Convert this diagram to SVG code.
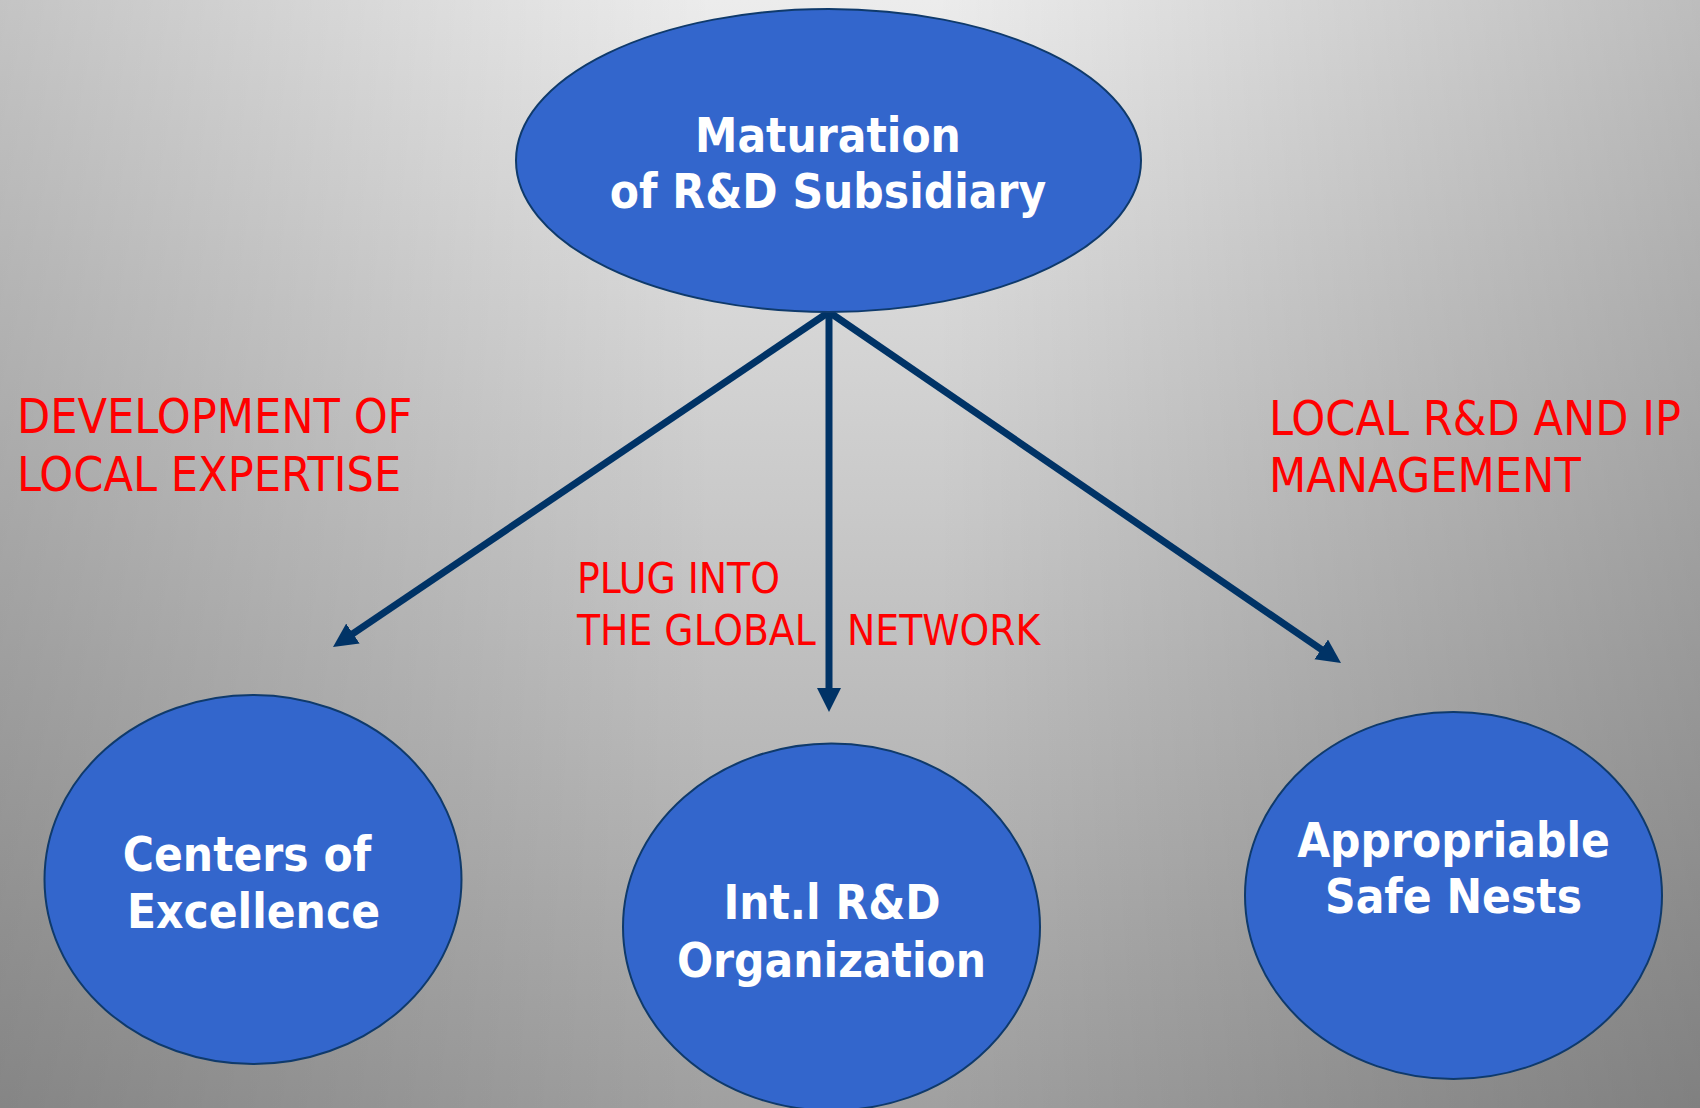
<svg xmlns="http://www.w3.org/2000/svg" width="1700" height="1108" viewBox="0 0 1700 1108">
  <defs>
    <linearGradient id="bgV" x1="0" y1="0" x2="0" y2="1">
      <stop offset="0" stop-color="#ececec"/>
      <stop offset="1" stop-color="#a0a0a0"/>
    </linearGradient>
    <linearGradient id="bgH" x1="0" y1="0" x2="1" y2="0">
      <stop offset="0" stop-color="#000" stop-opacity="0.17"/>
      <stop offset="0.42" stop-color="#000" stop-opacity="0"/>
      <stop offset="0.55" stop-color="#000" stop-opacity="0"/>
      <stop offset="1" stop-color="#000" stop-opacity="0.2"/>
    </linearGradient>
    <marker id="head" markerUnits="userSpaceOnUse" markerWidth="30" markerHeight="30" refX="4" refY="12" orient="auto">
      <path d="M0,0 L24,12 L0,24 z" fill="#003366"/>
    </marker>
    <style>
      .node { fill: #3366cc; stroke: #0f3a6b; stroke-width: 2; }
      .title { font-family: "DejaVu Sans Condensed", "DejaVu Sans", sans-serif; font-stretch: condensed; font-weight: bold; font-size: 47.3px; fill: #ffffff; text-anchor: middle; }
      .label { font-family: "DejaVu Sans Condensed", "DejaVu Sans", sans-serif; font-stretch: condensed; font-size: 48px; fill: #ff0000; }
      .small { font-size: 42px; }
      .link { stroke: #003366; stroke-width: 7; fill: none; marker-end: url(#head); }
    </style>
  </defs>

  <!-- backdrop -->
  <rect x="0" y="0" width="1700" height="1108" fill="url(#bgV)"/>
  <rect x="0" y="0" width="1700" height="1108" fill="url(#bgH)"/>

  <!-- connectors -->
  <g id="connectors">
    <line class="link" x1="829" y1="312" x2="349.6" y2="635.8"/>
    <line class="link" x1="829" y1="312" x2="829" y2="692"/>
    <line class="link" x1="829" y1="312" x2="1324.5" y2="651.7"/>
  </g>

  <!-- connector labels -->
  <g id="labels">
    <text class="label" x="17" y="433">DEVELOPMENT OF</text>
    <text class="label" x="17" y="491">LOCAL EXPERTISE</text>
    <text class="label small" x="577" y="593">PLUG INTO</text>
    <text class="label small" y="645"><tspan x="577">THE GLOBAL</tspan><tspan x="847">NETWORK</tspan></text>
    <text class="label" x="1269" y="435">LOCAL R&amp;D AND IP</text>
    <text class="label" x="1269" y="492">MANAGEMENT</text>
  </g>

  <!-- nodes -->
  <g id="maturation">
    <ellipse class="node" cx="828.5" cy="160.5" rx="312.5" ry="151.5"/>
    <text class="title" x="828" y="152">Maturation</text>
    <text class="title" x="828" y="208">of R&amp;D Subsidiary</text>
  </g>
  <g id="centers-of-excellence">
    <ellipse class="node" cx="253" cy="879.5" rx="208.5" ry="184.5"/>
    <text class="title" x="247" y="871">Centers of</text>
    <text class="title" x="253.5" y="928">Excellence</text>
  </g>
  <g id="intl-rd-organization">
    <ellipse class="node" cx="831.5" cy="927" rx="208.5" ry="183.5"/>
    <text class="title" x="832" y="919">Int.l R&amp;D</text>
    <text class="title" x="831.5" y="977">Organization</text>
  </g>
  <g id="appropriable-safe-nests">
    <ellipse class="node" cx="1453.5" cy="895.5" rx="208.5" ry="183.5"/>
    <text class="title" x="1453.5" y="857">Appropriable</text>
    <text class="title" x="1453.5" y="913">Safe Nests</text>
  </g>
</svg>
